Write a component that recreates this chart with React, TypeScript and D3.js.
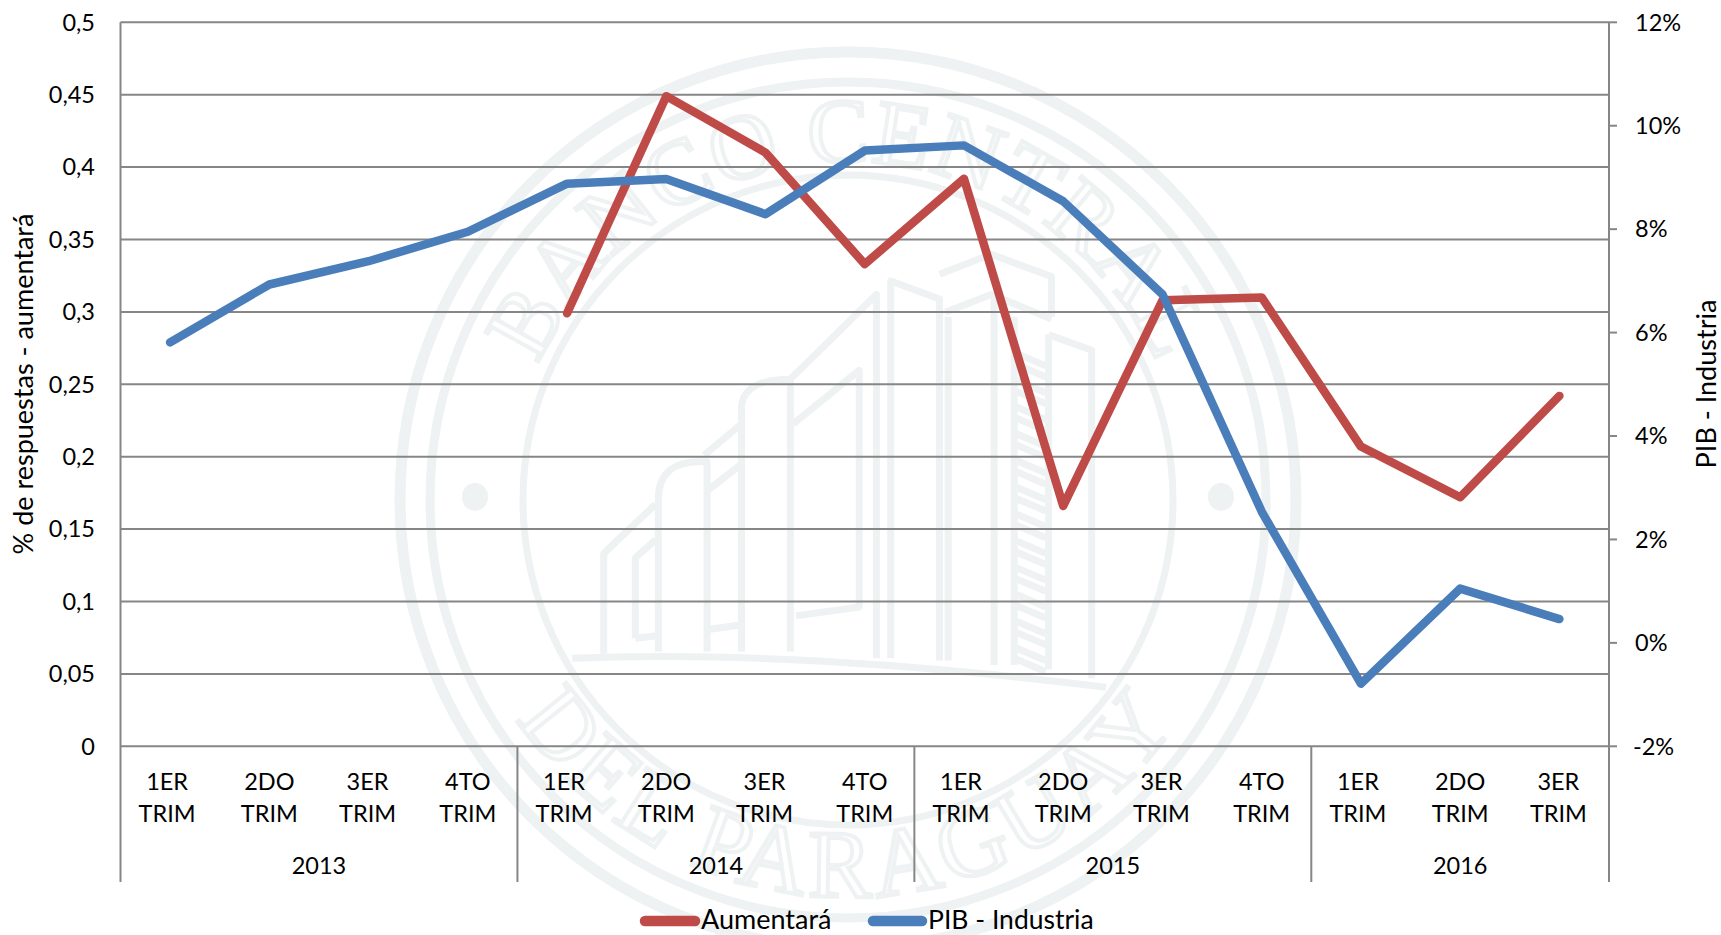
import React from "react";
import * as d3 from "d3";

const quarters = ["1ER","2DO","3ER","4TO","1ER","2DO","3ER","4TO","1ER","2DO","3ER","4TO","1ER","2DO","3ER"];
const years = [{label:"2013",n:4},{label:"2014",n:4},{label:"2015",n:4},{label:"2016",n:3}];
const aumentara: (number|null)[] = [null,null,null,null,0.299,0.449,0.41,0.333,0.392,0.166,0.308,0.31,0.207,0.172,0.242];
const pibIndustria = [5.81,6.93,7.38,7.95,8.88,8.97,8.29,9.52,9.62,8.54,6.74,2.54,-0.79,1.05,0.46];
const leftTicks = [0,0.05,0.1,0.15,0.2,0.25,0.3,0.35,0.4,0.45,0.5];
const leftTickLabels = ["0","0,05","0,1","0,15","0,2","0,25","0,3","0,35","0,4","0,45","0,5"];
const rightTicks = [-2,0,2,4,6,8,10,12];

const W = 1721, H = 935;
const L = 120.5, R = 1609, T = 22.3, B = 746.3;
const FONT = "Lato, Carlito, sans-serif";
const GRID = "#868686";
const RED = "#BE4B48";
const BLUE = "#4A7EBB";
const SEAL = "#EEF2F2";

const x = d3.scaleBand<number>().domain(d3.range(quarters.length)).range([L, R]);
const yL = d3.scaleLinear().domain([0, 0.5]).range([B, T]);
const yR = d3.scaleLinear().domain([-2, 12]).range([B, T]);
const cx = (i: number) => (x(i) as number) + x.bandwidth() / 2;

const redLine = d3.line<number|null>().defined(d => d !== null).x((_, i) => cx(i)).y(d => yL(d as number));
const blueLine = d3.line<number>().x((_, i) => cx(i)).y(d => yR(d));

const labelNudge: Record<string, number> = { "1ER": -3, "2DO": 0, "3ER": -1, "4TO": 0 };

const SX = 848, SY = 500;
const buildingPaths = [
  "M300,1385 Q700,1365 1230,1450",
  "M355,1375 L355,1150 L445,1040",
  "M410,1340 L410,1160 L445,1120 M410,1340 L445,1335",
  "M450,1370 L450,1030 Q450,940 530,945 L535,945 L535,1370",
  "M595,1370 L595,820 Q600,760 680,760 L680,1370",
  "M535,1010 L595,950 M540,1320 L595,1310 M595,860 L530,930",
  "M680,760 L830,570 L830,1385",
  "M685,860 L800,740 L800,1270 L690,1290",
  "M855,1385 L855,540 L940,580 L940,1390",
  "M940,525 L1030,480 L1135,530 L1135,620",
  "M950,610 L1030,570 L1135,625 M955,620 L955,1390 M1035,570 L1035,1400",
  "M1130,660 L1205,695 L1205,1430 M1130,660 L1130,1410",
  "M1070,620 L1070,1400",
];
const ladder = d3.range(12).map(i => {
  const y = 700 + i * 60;
  return `M1070,${y} L1125,${y + 30} M1070,${y + 25} L1125,${y + 55}`;
}).join(" ");

function Seal() {
  const rTop = 338, rBot = 397;
  return (
    <g>
      <defs>
        <path id="sealTop" d={`M${SX - rTop},${SY} A${rTop},${rTop} 0 0 1 ${SX + rTop},${SY}`} />
        <path id="sealBot" d={`M${SX - rBot},${SY} A${rBot},${rBot} 0 0 0 ${SX + rBot},${SY}`} />
      </defs>
      <circle cx={SX} cy={SY} r={448} fill="none" stroke={SEAL} strokeWidth={11} />
      <circle cx={SX} cy={SY} r={418} fill="none" stroke={SEAL} strokeWidth={9} />
      <circle cx={SX} cy={SY} r={325} fill="none" stroke={SEAL} strokeWidth={7} />
      <ellipse cx={475} cy={497} rx={13} ry={14} fill={SEAL} />
      <ellipse cx={1221} cy={497} rx={13} ry={14} fill={SEAL} />
      <g fontFamily="'Liberation Serif', serif" fill="none" stroke={SEAL} strokeWidth={4}>
        <text textAnchor="middle" fontSize={92} letterSpacing={1}><textPath href="#sealTop" startOffset="50%">BANCO CENTRAL</textPath></text>
        <text textAnchor="middle" fontSize={96} letterSpacing={5}><textPath href="#sealBot" startOffset="50%">DEL PARAGUAY</textPath></text>
      </g>
      <g transform="translate(400,40) scale(0.574,0.4464)" fill="none" stroke={SEAL} strokeWidth={7} strokeLinejoin="round">
        {buildingPaths.map((d, i) => <path key={i} d={d} vectorEffect="non-scaling-stroke" />)}
        <path d={ladder} vectorEffect="non-scaling-stroke" />
      </g>
    </g>
  );
}

export default function App() {
  let acc = 0;
  const yearSpans = years.map(y => { const s = acc; acc += y.n; return { ...y, s, e: acc }; });
  const tS = { fontFamily: FONT, fontSize: 23.5, fill: "#000" } as const;
  const legendY = 921;
  return (
    <svg width={W} height={H} viewBox={`0 0 ${W} ${H}`} style={{ position: "absolute", left: 0, top: 0, display: "block" }}>
      <rect width={W} height={H} fill="#fff" />
      <Seal />
      {leftTicks.map(t => <line key={t} x1={L} x2={R} y1={yL(t)} y2={yL(t)} stroke={GRID} strokeWidth={2} />)}
      <line x1={L} x2={L} y1={T} y2={882} stroke={GRID} strokeWidth={2} />
      <line x1={R} x2={R} y1={T} y2={882} stroke={GRID} strokeWidth={2} />
      {yearSpans.slice(0, -1).map(s => {
        const px = (x(s.e) as number);
        return <line key={s.label} x1={px} x2={px} y1={B} y2={882} stroke={GRID} strokeWidth={2} />;
      })}
      {rightTicks.map(t => <line key={t} x1={R} x2={R + 8} y1={yR(t)} y2={yR(t)} stroke={GRID} strokeWidth={2} />)}

      {leftTicks.map((t, i) => <text key={t} x={95} y={yL(t)} dy="0.35em" textAnchor="end" {...tS}>{leftTickLabels[i]}</text>)}
      {rightTicks.map(t => <text key={t} x={t < 0 ? 1633 : 1635} y={yR(t)} dy="0.35em" {...tS}>{`${t}%`}</text>)}

      {quarters.map((q, i) => (
        <g key={i}>
          <text x={cx(i) + labelNudge[q]} y={782} dy="0.35em" textAnchor="middle" {...tS}>{q}</text>
          <text x={cx(i) + labelNudge[q]} y={814} dy="0.35em" textAnchor="middle" {...tS}>TRIM</text>
        </g>
      ))}
      {yearSpans.map(s => (
        <text key={s.label} x={((x(s.s) as number) + (s.e < quarters.length ? (x(s.e) as number) : R)) / 2} y={866} dy="0.35em" textAnchor="middle" {...tS}>{s.label}</text>
      ))}

      <text transform="translate(24,384) rotate(-90)" dy="0.35em" textAnchor="middle" {...tS} fontSize={27}>% de respuestas - aumentará</text>
      <text transform="translate(1707,384) rotate(-90)" dy="0.35em" textAnchor="middle" {...tS} fontSize={27}>PIB - Industria</text>

      <path d={redLine(aumentara) || ""} fill="none" stroke={RED} strokeWidth={8.5} strokeLinecap="round" strokeLinejoin="round" />
      <path d={blueLine(pibIndustria) || ""} fill="none" stroke={BLUE} strokeWidth={8.5} strokeLinecap="round" strokeLinejoin="round" />

      <line x1={645} x2={695} y1={legendY} y2={legendY} stroke={RED} strokeWidth={10.5} strokeLinecap="round" />
      <text x={701} y={legendY - 1} dy="0.35em" {...tS} fontSize={27}>Aumentará</text>
      <line x1={873} x2={922} y1={legendY} y2={legendY} stroke={BLUE} strokeWidth={10.5} strokeLinecap="round" />
      <text x={928} y={legendY - 1} dy="0.35em" {...tS} fontSize={26.5}>PIB - Industria</text>
    </svg>
  );
}
